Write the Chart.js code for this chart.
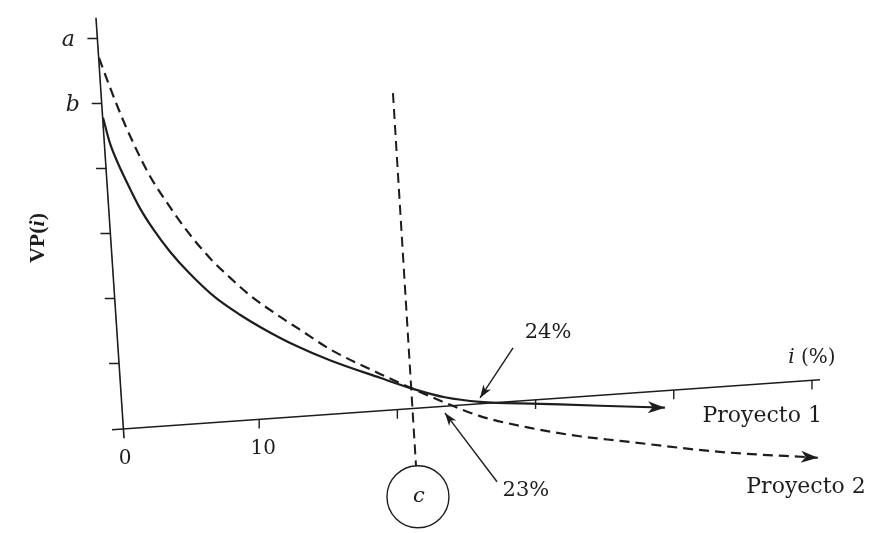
<!DOCTYPE html>
<html>
<head>
<meta charset="utf-8">
<script src="https://cdn.jsdelivr.net/npm/chart.js@4"></script>
<style>
  html, body { margin: 0; padding: 0; background: #fff; }
  #wrap { width: 870px; height: 533px; }
</style>
</head>
<body>
<div id="wrap"><canvas id="chart" width="870" height="533"></canvas></div>
<script>
// VP(i) vs i (%) – scanned textbook sketch, two projects crossing near 23-24 %.
// The sketch leans a little, so everything is kept in (i, VP) units and drawn through the scales.

const proy1I  = [-1.30, -0.80, -0.22, 0.51, 1.37, 2.32, 3.55, 4.99, 6.80, 8.61, 10.42, 12.59, 15.12, 18.74, 21.13, 23.44, 25.98, 30.32, 34.66, 39.36];
const proy1VP = [4.78, 4.39, 4.08, 3.75, 3.39, 3.07, 2.72, 2.38, 2.02, 1.75, 1.52, 1.28, 1.05, 0.78, 0.61, 0.48, 0.41, 0.38, 0.35, 0.32];

const proy2I  = [-1.59, -0.80, 0.14, 1.23, 2.10, 3.18, 4.85, 6.44, 7.89, 9.33, 11.50, 12.95, 15.12, 18.74, 21.13, 23.30, 25.98, 29.59, 33.21, 36.11, 43.34, 50.43];
const proy2VP = [5.70, 5.25, 4.75, 4.24, 3.88, 3.52, 3.02, 2.62, 2.32, 2.05, 1.72, 1.52, 1.22, 0.84, 0.61, 0.41, 0.19, 0.01, -0.12, -0.19, -0.36, -0.45];

// axes (end points) and ticks
const xAxisI  = [-0.65, 50.58];
const xAxisVP = [-0.02, 0.75];
const yAxisI  = [-1.81, 0.22];
const yAxisVP = [6.32, -0.15];
const xTicks  = [10, 20, 30, 40, 50];
const yTicks  = [1, 2, 3, 4, 5, 6];
const yTickLabels  = ['', '', '', '', 'b', 'a'];
const xTickLabels  = ['0', '10'];
const xTickLabelAt = [0, 10];

// dashed vertical "c" line and its circle
const cLineI  = [19.68, 21.35];
const cLineVP = [5.16, -0.58];
const cCircleI  = [21.49];
const cCircleVP = [-1.05];

// callout arrows, tail -> head
const arrow24I  = [28.37, 25.98];
const arrow24VP = [1.24, 0.47];
const arrow23I  = [27.21, 23.44];
const arrow23VP = [-0.82, 0.24];

const INK   = '#1d1d1d';
const SERIF = '"DejaVu Serif", serif';

const pts = (is, vs) => is.map((v, k) => ({ x: v, y: vs[k] }));

// i of the (leaning) y axis at a given VP, and VP of the x axis at a given i
const yAxisIAt  = v => yAxisI[0] + (yAxisI[1] - yAxisI[0]) * (v - yAxisVP[0]) / (yAxisVP[1] - yAxisVP[0]);
const xAxisVPAt = i => xAxisVP[0] + (xAxisVP[1] - xAxisVP[0]) * (i - xAxisI[0]) / (xAxisI[1] - xAxisI[0]);

const yTickData = [];
yTicks.forEach(v => {
  const i0 = yAxisIAt(v);
  yTickData.push({ x: i0 - 0.72, y: v }, { x: i0, y: v }, { x: i0, y: null });
});
const xTickData = [];
xTicks.forEach(t => {
  const v0 = xAxisVPAt(t);
  xTickData.push({ x: t, y: v0 }, { x: t, y: v0 - 0.14 }, { x: t, y: null });
});

function line(data, extra) {
  return Object.assign({
    data, showLine: true, borderColor: INK, borderWidth: 1.5,
    pointRadius: 0, fill: false, tension: 0, spanGaps: false, clip: false,
  }, extra || {});
}

const textLabels = [
  { text: '24%',        i: 30.9,  vp: 1.47,  font: '21px ' + SERIF },
  { text: '23%',        i: 29.3,  vp: -0.95, font: '21px ' + SERIF },
  { text: 'Proyecto 1', i: 46.4,  vp: 0.19,  font: '22px ' + SERIF },
  { text: 'Proyecto 2', i: 49.57, vp: -0.90, font: '22px ' + SERIF },
];

function drawRuns(ctx, runs, cx, cy) {
  let w = 0;
  runs.forEach(r => { ctx.font = r[1]; w += ctx.measureText(r[0]).width; });
  let x0 = cx - w / 2;
  ctx.textAlign = 'left';
  runs.forEach(r => {
    ctx.font = r[1];
    ctx.fillText(r[0], x0, cy);
    x0 += ctx.measureText(r[0]).width;
  });
}

const arrowHeads = {
  id: 'arrowHeads',
  afterDatasetsDraw(chart) {
    const ctx = chart.ctx;
    chart.data.datasets.forEach((ds, k) => {
      if (!ds.head) return;
      const p = chart.getDatasetMeta(k).data;
      const a = p[p.length - 2], b = p[p.length - 1];
      const ang = Math.atan2(b.y - a.y, b.x - a.x);
      const len = ds.head[0], half = ds.head[1];
      ctx.save();
      ctx.translate(b.x, b.y);
      ctx.rotate(ang);
      ctx.beginPath();
      ctx.moveTo(0, 0);
      ctx.lineTo(-len, -half);
      ctx.lineTo(-len * 0.72, 0);
      ctx.lineTo(-len, half);
      ctx.closePath();
      ctx.fillStyle = INK;
      ctx.fill();
      ctx.restore();
    });
  }
};

const sketchText = {
  id: 'sketchText',
  afterDatasetsDraw(chart) {
    const { ctx, scales: { x, y } } = chart;
    ctx.save();
    ctx.fillStyle = INK;
    ctx.textBaseline = 'middle';

    textLabels.forEach(l => drawRuns(ctx, [[l.text, l.font]], x.getPixelForValue(l.i), y.getPixelForValue(l.vp)));

    // a, b on the y axis
    yTicks.forEach((v, k) => {
      if (!yTickLabels[k]) return;
      drawRuns(ctx, [[yTickLabels[k], 'italic 22px ' + SERIF]], x.getPixelForValue(yAxisIAt(v)) - 29, y.getPixelForValue(v) + 2);
    });

    // 0, 10 under the x axis (they follow the lean of the axis)
    xTickLabels.forEach((t, k) => {
      const at = xTickLabelAt[k];
      drawRuns(ctx, [[t, '20px ' + SERIF]], x.getPixelForValue(at) + 4, y.getPixelForValue(xAxisVPAt(at) - 0.46));
    });

    // i (%)
    drawRuns(ctx, [['i', 'italic 20px ' + SERIF], [' (%)', '20px ' + SERIF]], x.getPixelForValue(50.0), y.getPixelForValue(1.08));

    // c in the circle
    drawRuns(ctx, [['c', 'italic 21px ' + SERIF]], x.getPixelForValue(cCircleI[0]) + 1, y.getPixelForValue(cCircleVP[0]));

    // VP(i), rotated
    ctx.translate(x.getPixelForValue(-5.98), y.getPixelForValue(2.93));
    ctx.rotate(-Math.PI / 2);
    const B = 'bold 22px "Liberation Serif", serif', BI = 'bold italic 22px "Liberation Serif", serif';
    drawRuns(ctx, [['VP(', B], ['i', BI], [')', B]], 0, 0);
    ctx.restore();
  }
};

new Chart(document.getElementById('chart'), {
  type: 'scatter',
  data: {
    datasets: [
      line(pts(cCircleI, cCircleVP), { showLine: false, pointRadius: 31, pointStyle: 'circle', pointBackgroundColor: '#fff', pointBorderColor: INK, pointBorderWidth: 1.4 }),
      line(pts(proy1I, proy1VP), { borderWidth: 2.2, cubicInterpolationMode: 'monotone', head: [17, 6] }),
      line(pts(proy2I, proy2VP), { borderWidth: 2.2, borderDash: [10, 6], cubicInterpolationMode: 'monotone', head: [17, 6] }),
      line(pts(cLineI, cLineVP), { borderWidth: 2, borderDash: [10, 6] }),
      line(pts(arrow24I, arrow24VP), { borderWidth: 1.4, head: [13, 4.5] }),
      line(pts(arrow23I, arrow23VP), { borderWidth: 1.4, head: [13, 4.5] }),
      line(pts(xAxisI, xAxisVP), { borderWidth: 1.6 }),
      line(pts(yAxisI, yAxisVP), { borderWidth: 1.6 }),
      line(yTickData, { borderWidth: 1.6 }),
      line(xTickData, { borderWidth: 1.4 }),
    ]
  },
  options: {
    responsive: false,
    animation: false,
    layout: { padding: 0, autoPadding: false },
    scales: {
      x: { type: 'linear', display: false, min: -8.755, max: 54.2 },
      y: { type: 'linear', display: false, min: -1.608, max: 6.592 },
    },
    plugins: { legend: { display: false }, tooltip: { enabled: false } },
  },
  plugins: [arrowHeads, sketchText],
});
</script>
</body>
</html>
